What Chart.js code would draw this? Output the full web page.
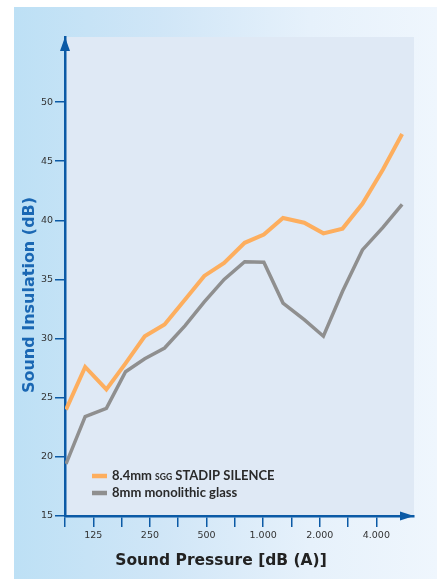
<!DOCTYPE html>
<html>
<head>
<meta charset="utf-8">
<title>Sound insulation</title>
<script src="https://cdn.jsdelivr.net/npm/chart.js@4/dist/chart.umd.min.js"></script>
<style>
  html, body { margin: 0; padding: 0; background: #fff; }
  #wrap { position: relative; width: 437px; height: 579px; overflow: hidden; }
  #panel {
    position: absolute; left: 14px; top: 7px; right: 0; bottom: 0;
    background: linear-gradient(to right, #bde0f5 0%, #d0e6f7 35%, #e6f1fb 70%, #eff6fd 100%);
  }
  #soundChart { position: absolute; left: 0; top: 0; }
</style>
</head>
<body>
<div id="wrap">
  <div id="panel"></div>
  <canvas id="soundChart" width="437" height="579"></canvas>
</div>
<script>
// third-octave band centre frequencies (Hz)
const frequencies = [100, 125, 160, 200, 250, 315, 400, 500, 630, 800, 1000, 1250, 1600, 2000, 2500, 3150, 4000, 5000];

// sound insulation values (dB)
const stadipSilence = [24.0, 27.6, 25.7, 27.9, 30.2, 31.2, 33.3, 35.3, 36.4, 38.1, 38.8, 40.2, 39.8, 38.9, 39.3, 41.4, 44.3, 47.3];
const monolithicGlass = [19.4, 23.4, 24.1, 27.2, 28.3, 29.2, 31.1, 33.1, 35.0, 36.5, 36.45, 33.0, 31.6, 30.2, 34.0, 37.5, 39.4, 41.35];

// axis ticks as printed on the original
const yTickValues = [15, 20, 25, 30, 35, 40, 45, 50];
const xTickLabels = ['', '125', '', '250', '', '500', '', '1.000', '', '2.000', '', '4.000'];

const seriesNames = ['8.4mm SGG STADIP SILENCE', '8mm monolithic glass'];

const axisBlue = '#0b5aa6';
const orange = '#fdae5e';
const grey = '#8f8f8f';

function toPoints(values) {
    return values.map(function(v, i) {
        return { x: frequencies[i], y: v };
    });
}

// Plot background, axis arrows, axis titles and the legend box
const decorations = {
    id: 'decorations',
    beforeDraw: function(chart) {
        const ctx = chart.ctx;
        const a = chart.chartArea;
        ctx.save();
        ctx.fillStyle = '#dfe9f5';
        ctx.fillRect(a.left, a.top, a.right - a.left, a.bottom - a.top);
        ctx.restore();
    },
    afterDraw: function(chart) {
        const ctx = chart.ctx;
        const a = chart.chartArea;
        ctx.save();

        // arrow heads
        ctx.fillStyle = axisBlue;
        ctx.beginPath();
        ctx.moveTo(a.left, a.top);
        ctx.lineTo(a.left - 5, a.top + 14);
        ctx.lineTo(a.left + 5, a.top + 14);
        ctx.closePath();
        ctx.fill();
        ctx.beginPath();
        ctx.moveTo(a.right, a.bottom);
        ctx.lineTo(a.right - 14, a.bottom - 4.5);
        ctx.lineTo(a.right - 14, a.bottom + 4.5);
        ctx.closePath();
        ctx.fill();

        // axis titles
        ctx.textAlign = 'center';
        ctx.textBaseline = 'middle';
        ctx.fillStyle = '#222';
        ctx.font = 'bold 15.5px "DejaVu Sans"';
        ctx.fillText('Sound Pressure [dB (A)]', 221, 561);

        ctx.save();
        ctx.translate(30, 295);
        ctx.rotate(-Math.PI / 2);
        ctx.fillStyle = '#1a67b3';
        ctx.font = 'bold 16px "DejaVu Sans"';
        ctx.fillText('Sound Insulation (dB)', 0, 0);
        ctx.restore();

        // legend
        const rows = [476, 493];
        chart.data.datasets.forEach(function(ds, i) {
            const y = rows[i];
            ctx.strokeStyle = ds.borderColor;
            ctx.lineWidth = 4.5;
            ctx.beginPath();
            ctx.moveTo(92, y);
            ctx.lineTo(107, y);
            ctx.stroke();

            ctx.fillStyle = '#2a2a2a';
            ctx.textAlign = 'left';
            let x = 112;
            const bigFont = 'bold 13px Lato';
            const smallFont = 'bold 8.5px Lato';
            const parts = ds.label.split('SGG');
            parts.forEach(function(part, j) {
                if (j > 0) {
                    ctx.font = smallFont;
                    ctx.fillText('SGG', x, y + 1.5);
                    x += ctx.measureText('SGG').width;
                }
                ctx.font = bigFont;
                ctx.fillText(part, x, y);
                x += ctx.measureText(part).width;
            });
        });

        ctx.restore();
    }
};

const chart = new Chart(document.getElementById('soundChart'), {
    type: 'line',
    data: {
        datasets: [{
            label: seriesNames[0],
            data: toPoints(stadipSilence),
            borderColor: orange,
            borderWidth: 4,
            pointRadius: 0,
            tension: 0,
            xAxisID: 'x',
            yAxisID: 'y'
        }, {
            label: seriesNames[1],
            data: toPoints(monolithicGlass),
            borderColor: grey,
            borderWidth: 3.5,
            pointRadius: 0,
            tension: 0,
            xAxisID: 'x',
            yAxisID: 'y'
        }]
    },
    options: {
        responsive: false,
        animation: false,
        layout: {
            padding: { left: 14, top: 37, right: 23, bottom: 0 }
        },
        plugins: {
            legend: { display: false },
            tooltip: { enabled: false }
        },
        scales: {
            // frequency axis carrying the data (log spaced bands)
            x: {
                type: 'logarithmic',
                position: 'bottom',
                display: false,
                min: 98.85,
                max: 5741
            },
            // printed tick axis under the plot
            xt: {
                type: 'linear',
                position: 'bottom',
                min: 0,
                max: 12.33,
                afterBuildTicks: function(scale) {
                    scale.ticks = xTickLabels.map(function(label, i) {
                        return { value: i };
                    });
                },
                afterFit: function(scale) {
                    scale.height = 63;
                },
                ticks: {
                    autoSkip: false,
                    maxRotation: 0,
                    padding: 3,
                    color: '#333',
                    font: { family: 'DejaVu Sans', size: 9.5 },
                    callback: function(value) {
                        return xTickLabels[value] || '';
                    }
                },
                grid: {
                    drawOnChartArea: false,
                    drawTicks: true,
                    tickLength: 11,
                    color: axisBlue,
                    lineWidth: 1.5
                },
                border: { color: axisBlue, width: 2.5 }
            },
            y: {
                type: 'linear',
                min: 15,
                max: 55.5,
                afterBuildTicks: function(scale) {
                    scale.ticks = yTickValues.map(function(v) {
                        return { value: v };
                    });
                },
                afterFit: function(scale) {
                    scale.width = 51;
                },
                ticks: {
                    padding: 2,
                    color: '#333',
                    font: { family: 'DejaVu Sans', size: 9.5 }
                },
                grid: {
                    drawOnChartArea: false,
                    drawTicks: true,
                    tickLength: 10,
                    color: axisBlue,
                    lineWidth: 1.5
                },
                border: { color: axisBlue, width: 2.5 }
            }
        }
    },
    plugins: [decorations]
});
</script>
</body>
</html>
